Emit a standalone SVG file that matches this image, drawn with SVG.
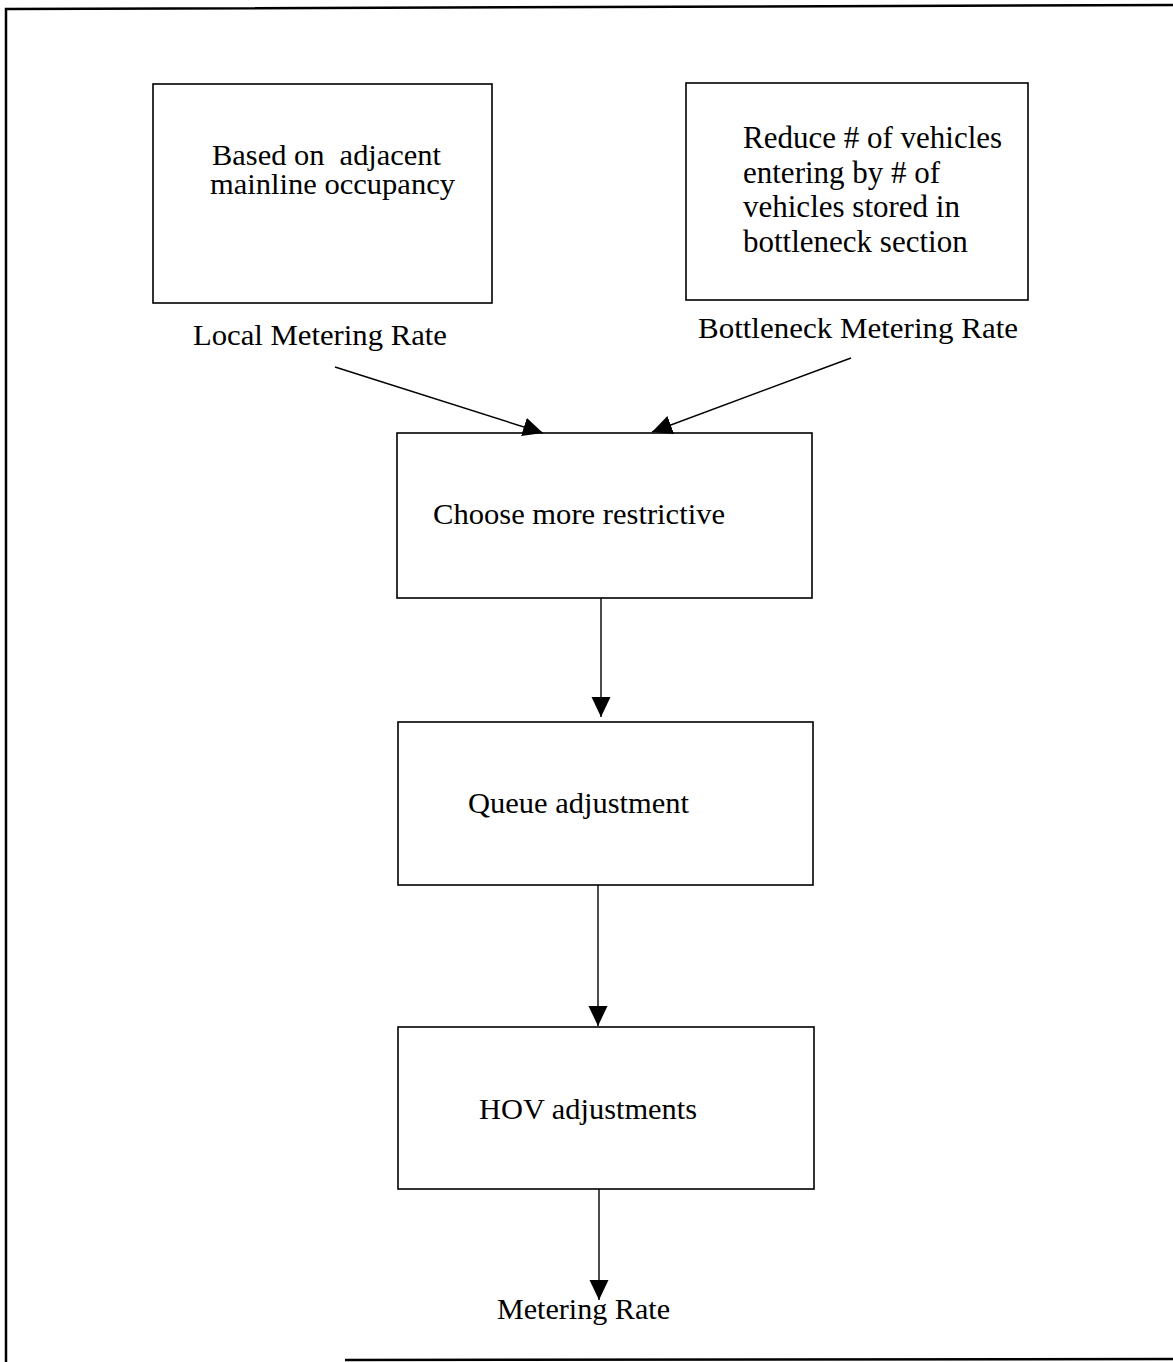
<svg xmlns="http://www.w3.org/2000/svg" width="1173" height="1362" viewBox="0 0 1173 1362">
<style>
.frame{fill:none;stroke:#000;stroke-width:2.5}
.box{fill:#fff;stroke:#000;stroke-width:1.6}
.conn{fill:none;stroke:#000;stroke-width:1.4}
text{font-family:"Liberation Serif","Times New Roman",serif;font-size:30px;fill:#000;white-space:pre}
</style>
<defs>
<marker id="ah" markerUnits="userSpaceOnUse" markerWidth="21" markerHeight="20" refX="20" refY="9.5" orient="auto" viewBox="0 0 21 20">
<path d="M0,0 L20,9.5 L0,19 Z" fill="#000"/>
</marker>
</defs>
<rect width="1173" height="1362" fill="#fff"/>
<g id="frame">
<path class="frame" d="M6,1362 L6,9 L1173,5"/>
<path class="frame" d="M345,1360 L1173,1359"/>
</g>
<g id="local">
<rect class="box" x="153" y="84" width="339" height="219"/>
<text x="212" y="165" style="font-size:29px" textLength="229" lengthAdjust="spacingAndGlyphs">Based on  adjacent</text>
<text x="210" y="194" style="font-size:29px" textLength="245" lengthAdjust="spacingAndGlyphs">mainline occupancy</text>
<text x="193" y="345" textLength="254" lengthAdjust="spacingAndGlyphs">Local Metering Rate</text>
</g>
<g id="bottleneck">
<rect class="box" x="686" y="83" width="342" height="217"/>
<text x="743" y="148" style="font-size:31px">Reduce # of vehicles</text>
<text x="743" y="183" style="font-size:31px">entering by # of</text>
<text x="743" y="217" style="font-size:31px">vehicles stored in</text>
<text x="743" y="252" style="font-size:31px">bottleneck section</text>
<text x="698" y="338" textLength="320" lengthAdjust="spacingAndGlyphs">Bottleneck Metering Rate</text>
</g>
<g id="choose">
<rect class="box" x="397" y="433" width="415" height="165"/>
<text x="433" y="524" textLength="292" lengthAdjust="spacingAndGlyphs">Choose more restrictive</text>
</g>
<g id="queue">
<rect class="box" x="398" y="722" width="415" height="163"/>
<text x="468" y="813" textLength="221" lengthAdjust="spacingAndGlyphs">Queue adjustment</text>
</g>
<g id="hov">
<rect class="box" x="398" y="1027" width="416" height="162"/>
<text x="479" y="1119" textLength="218" lengthAdjust="spacingAndGlyphs">HOV adjustments</text>
</g>
<g id="output">
<text x="497" y="1319" textLength="173" lengthAdjust="spacingAndGlyphs">Metering Rate</text>
</g>
<g id="connectors">
<line class="conn" x1="335" y1="367" x2="543" y2="433" marker-end="url(#ah)"/>
<line class="conn" x1="851" y1="358" x2="652" y2="432" marker-end="url(#ah)"/>
<line class="conn" x1="601" y1="598" x2="601" y2="717" marker-end="url(#ah)"/>
<line class="conn" x1="598" y1="885" x2="598" y2="1026" marker-end="url(#ah)"/>
<line class="conn" x1="599" y1="1189" x2="599" y2="1300" marker-end="url(#ah)"/>
</g>
</svg>
